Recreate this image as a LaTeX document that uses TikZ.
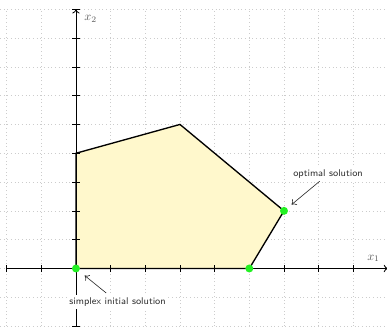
\documentclass[tikz,border=0pt]{standalone}
\usetikzlibrary{arrows.meta}
\definecolor{feas}{RGB}{255,248,204}
\definecolor{optgreen}{RGB}{34,240,34}
\begin{document}
\begin{tikzpicture}[x=1cm,y=0.8307cm,
  gridline/.style={black!20,dash pattern=on 0.6pt off 2.4pt,line width=0.5pt},
  axisline/.style={line width=0.7pt,-{To[length=3.5pt,width=6pt]}},
  tickline/.style={line width=0.5pt},
  region/.style={draw=black,line width=1.1pt,line join=miter},
  dot/.style={circle,fill=optgreen,inner sep=0pt,minimum size=0.23cm},
  lab/.style={font=\footnotesize\sffamily,text=black!80,fill=white,inner sep=2pt},
  axlab/.style={text=black!65,inner sep=0pt},
  pointer/.style={-{To[length=3.5pt,width=6pt]},line width=0.5pt,black!85}]
\useasboundingbox (-2.19,-2.0) rectangle (8.97,9.32);
% grid
\foreach \i in {-2,...,9} \draw[gridline] (\i,-2) -- (\i,9);
\foreach \j in {-2,...,9} \draw[gridline] (-2.19,\j) -- (9,\j);
% region
\coordinate (A) at (0,0);
\coordinate (B) at (0,4);
\coordinate (C) at (3,5);
\coordinate (D) at (6,2);
\coordinate (E) at (5,0);
\fill[feas] (A) -- (B) -- (C) -- (D) -- (E) -- cycle;
% axes
\coordinate (xs) at (-2,0);
\coordinate (xe) at (9,0);
\coordinate (ys) at (0,-2);
\coordinate (ye) at (0,9);
\draw[axisline] (xs) -- (xe);
\draw[axisline] (ys) -- (ye);
\foreach \i in {-2,...,8} \draw[tickline] (\i,-0.13) -- (\i,0.13);
\foreach \j in {-2,...,9} \draw[tickline] (-0.11,\j) -- (0.11,\j);
\node[axlab] (x1) at (8.58,0.35) {$x_1$};
\node[axlab] (x2) at (0.42,8.66) {$x_2$};
% region border
\draw[region] (A) -- (B) -- (C) -- (D) -- (E) -- cycle;
% points
\node[dot] (init) at (A) {};
\node[dot] (opt) at (D) {};
\node[dot] (other) at (E) {};
% labels
\node[lab] (lopt) at (7.27,3.27) {optimal solution};
\node[lab] (linit) at (1.2,-1.17) {simplex initial solution};
\draw[pointer,shorten >=0.16cm] (lopt) -- (opt);
\draw[pointer,shorten <=0.1cm,shorten >=0.2cm] (linit) -- (init);
\end{tikzpicture}
\end{document}
